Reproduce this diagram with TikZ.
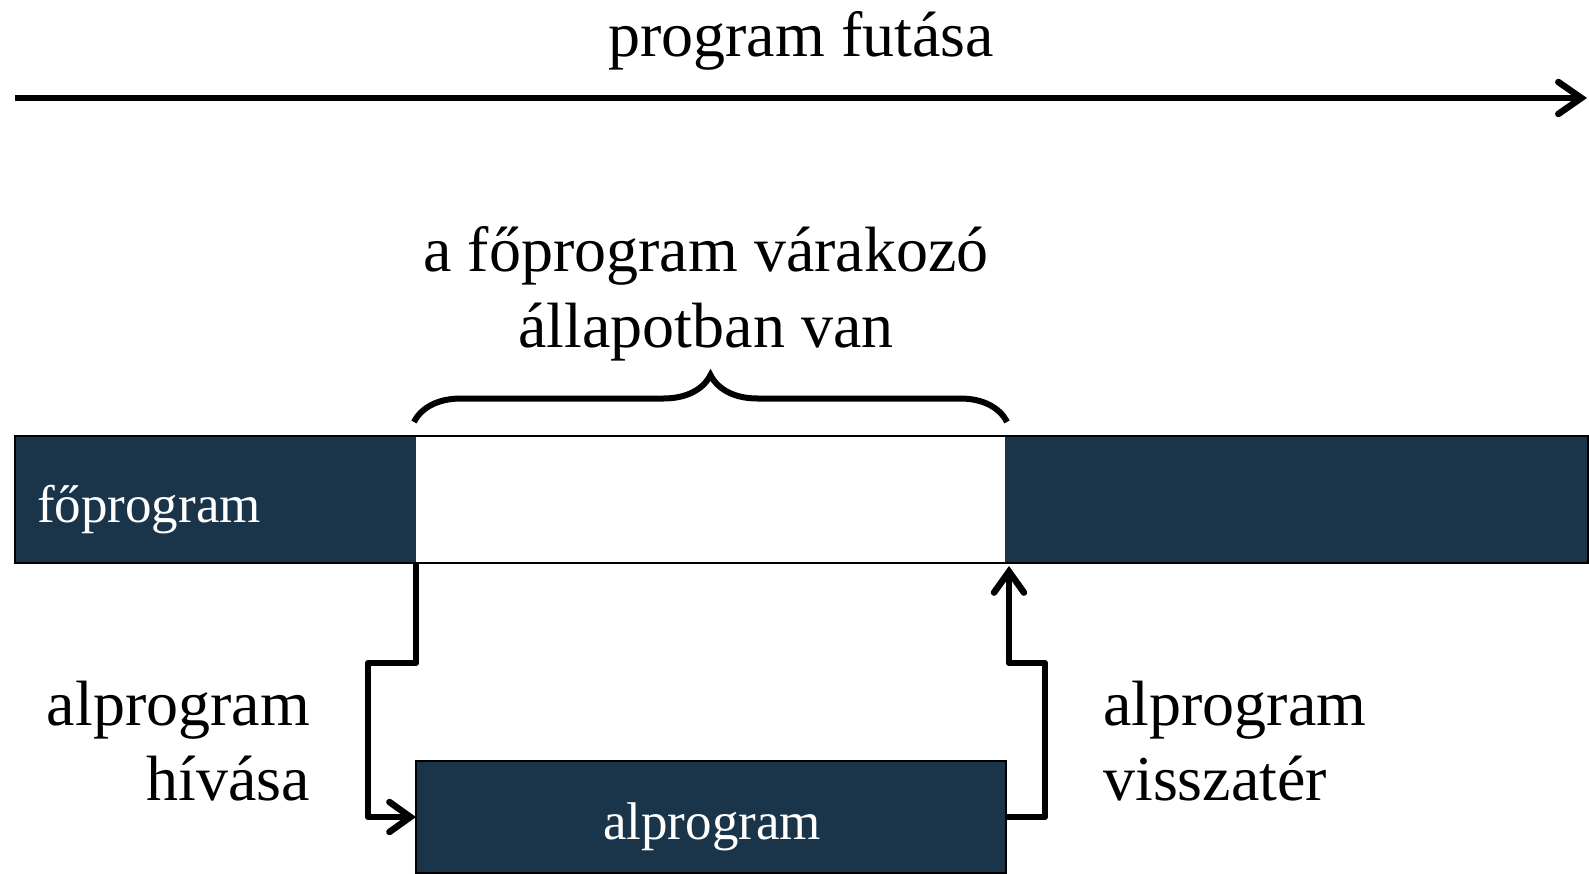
\documentclass[tikz,border=0pt]{standalone}
\usepackage{fontspec}
\setmainfont{Liberation Serif}
\usetikzlibrary{arrows.meta,calc,decorations.pathreplacing}
\definecolor{navy}{HTML}{1A3549}
\tikzset{
  big/.style={font=\fontsize{64}{76}\selectfont, inner sep=0pt},
  small/.style={font=\fontsize{53}{63}\selectfont, inner sep=0pt},
  darkpart/.style={fill=navy, draw=none, inner sep=0pt, outer sep=0pt, minimum height=127pt, anchor=north west},
  conn/.style={line width=6.5pt, line join=round, -{Straight Barb[length=21pt,width=30pt,line cap=round]}},
}
\begin{document}
\begin{tikzpicture}[x=1pt,y=1pt]
\useasboundingbox (0,0) rectangle (1589,-874);
% time axis
\coordinate (t0) at (15,-98);
\coordinate (t1) at (1587,-98);
\draw[line width=6.5pt, -{Straight Barb[length=23pt,width=32pt,line cap=round]}] (t0) -- (t1);
\node[big, anchor=base] (ttl) at (801,-57) {program futása};
% main bar
\node[darkpart, minimum width=401pt] (fo1) at (15,-436) {};
\node[draw=none, fill=white, inner sep=0pt, outer sep=0pt, minimum height=127pt, minimum width=589pt, anchor=north west] (wait) at (416,-436) {};
\node[darkpart, minimum width=583pt] (fo2) at (1005,-436) {};
\draw[line width=2.5pt] (fo1.north west) rectangle (fo2.south east);
\node[small, text=white, anchor=base west] (fol) at (37,-522) {főprogram};
% sub program box
\node[fill=navy, draw=black, line width=2pt, inner sep=0pt, outer sep=0pt, minimum width=590pt, minimum height=112pt, anchor=north west] (alp) at (416,-761) {};
\node[small, text=white, anchor=base] (alpl) at (712,-839) {alprogram};
% brace
\draw[line width=6pt, decorate, decoration={brace, amplitude=47pt, aspect=0.5}]
  ($(wait.north west)+(-2,14)$) -- ($(wait.north east)+(2,14)$);
\node[big, anchor=base] (b1) at (706,-272) {a főprogram várakozó};
\node[big, anchor=base] (b2) at (706,-347) {állapotban van};
% call connector
\draw[conn] (wait.south west) -- ++(0,-100) -- ++(-48,0) |- (alp.west);
% return connector
\draw[conn] (alp.east) -- ++(39,0) |- ($(wait.south east)+(4,-100)$) -- ($(wait.south east)+(4,-3)$);
% labels
\node[big, anchor=base east] (h1) at (310,-725) {alprogram};
\node[big, anchor=base east] (h2) at (310,-800) {hívása};
\node[big, anchor=base west] (v1) at (1103,-725) {alprogram};
\node[big, anchor=base west] (v2) at (1103,-800) {visszatér};
\end{tikzpicture}
\end{document}
